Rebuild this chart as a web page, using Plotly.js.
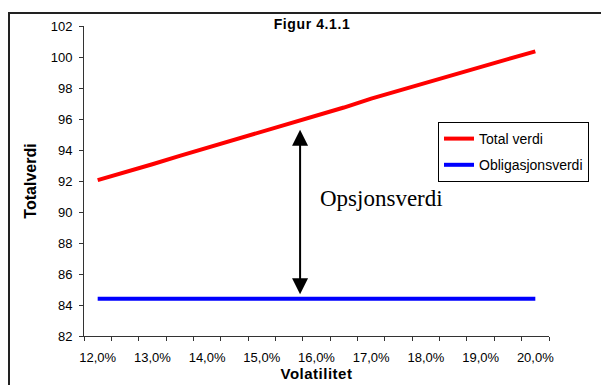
<!DOCTYPE html>
<html>
<head>
<meta charset="utf-8">
<script src="https://cdn.plot.ly/plotly-3.0.1.min.js"></script>
<style>
  html, body { margin: 0; padding: 0; background: #fff; overflow: hidden; }
  #chart { width: 601px; height: 385px; }
  .gtitle { letter-spacing: 0.6px; }
  .xtitle { letter-spacing: 0.5px; }
</style>
</head>
<body>
<div id="chart"></div>
<script>
// Volatility steps (fraction) on the horizontal axis
const volatilitet = [0.12, 0.125, 0.13, 0.135, 0.14, 0.145, 0.15, 0.155, 0.16,
                     0.165, 0.17, 0.175, 0.18, 0.185, 0.19, 0.195, 0.20];
// Total value of the instrument
const totalVerdi = [92.06, 92.55, 93.08, 93.62, 94.14, 94.64, 95.2, 95.72, 96.24,
                    96.74, 97.32, 97.84, 98.32, 98.82, 99.38, 99.86, 100.36];
// Bond value (independent of volatility)
const obligasjonsVerdi = [84.4, 84.4, 84.4, 84.4, 84.4, 84.4, 84.4, 84.4, 84.4,
                          84.4, 84.4, 84.4, 84.4, 84.4, 84.4, 84.4, 84.4];
// Option value marker: position and span between the two curves
const opsjonX = 0.157;
const opsjonTopp = 95.4;
const opsjonBunn = 84.7;
const opsjonTekstX = 0.1602;
const opsjonTekstY = 90.9;

const font = 'Arial, "Liberation Sans", sans-serif';

const traces = [
  {
    x: volatilitet, y: totalVerdi, name: 'Total verdi', type: 'scatter', mode: 'lines',
    line: { color: '#FF0000', width: 4 }, legendgroup: 'a'
  },
  {
    x: volatilitet, y: obligasjonsVerdi, name: 'Obligasjonsverdi', type: 'scatter', mode: 'lines',
    line: { color: '#0000FF', width: 4 }, legendgroup: 'b'
  }
];

const layout = {
  width: 601, height: 385,
  margin: { l: 84, r: 52, t: 26, b: 49, pad: 0 },
  paper_bgcolor: '#fff', plot_bgcolor: '#fff',
  separators: ', ',
  font: { family: font, size: 13, color: '#000' },
  title: {
    text: '<b>Figur 4.1.1</b>', font: { family: font, size: 14, color: '#000' },
    x: 312 / 601, xanchor: 'center', y: 1 - 24 / 385, yanchor: 'middle'
  },
  xaxis: {
    range: [0.1175, 0.2025], showgrid: false, zeroline: false,
    showline: true, linecolor: '#333', linewidth: 1,
    tick0: 0.12, dtick: 0.01, ticks: '', tickformat: '.1%',
    ticklabelstandoff: 9,
    tickfont: { family: font, size: 13, color: '#000' },
    minor: { tick0: 0.1175, dtick: 0.005, ticks: 'outside', ticklen: 4, tickcolor: '#333', showgrid: false },
    title: { text: '<b>Volatilitet</b>', font: { family: font, size: 15, color: '#000' }, standoff: 4 }
  },
  yaxis: {
    range: [82, 102], showgrid: false, zeroline: false,
    showline: true, linecolor: '#333', linewidth: 1,
    tick0: 82, dtick: 2, ticks: 'outside', ticklen: 4, tickcolor: '#333',
    ticklabelstandoff: 4,
    tickfont: { family: font, size: 13, color: '#000' },
    title: { text: '<b>Totalverdi</b>', font: { family: font, size: 16, color: '#000' }, standoff: 10 }
  },
  showlegend: true,
  legend: {
    x: (438 - 84) / 465, xanchor: 'left', y: (336 - 122) / 310, yanchor: 'top',
    bgcolor: '#fff', bordercolor: '#000', borderwidth: 1,
    font: { family: font, size: 14, color: '#000' },
    tracegroupgap: 5, itemwidth: 30
  },
  shapes: [
    // outer chart frame
    {
      type: 'rect', xref: 'paper', yref: 'paper',
      x0: (9 - 84) / 465, x1: (700 - 84) / 465,
      y0: (336 - 500) / 310, y1: (336 - 13) / 310,
      line: { color: '#222', width: 2 }, fillcolor: 'rgba(0,0,0,0)', layer: 'below'
    }
  ],
  annotations: [
    {
      x: opsjonX, y: opsjonBunn, ax: opsjonX, ay: opsjonTopp,
      xref: 'x', yref: 'y', axref: 'x', ayref: 'y',
      text: '', showarrow: true,
      arrowhead: 2, startarrowhead: 2, arrowside: 'end+start',
      arrowsize: 1.6, startarrowsize: 1.6, arrowwidth: 2, arrowcolor: '#000'
    },
    {
      x: opsjonTekstX, y: opsjonTekstY, xref: 'x', yref: 'y',
      text: 'Opsjonsverdi', showarrow: false, xanchor: 'left', yanchor: 'middle',
      font: { family: '"Liberation Serif", "Times New Roman", serif', size: 23, color: '#000' }
    }
  ]
};

Plotly.newPlot('chart', traces, layout, { staticPlot: true, displayModeBar: false });
</script>
</body>
</html>
